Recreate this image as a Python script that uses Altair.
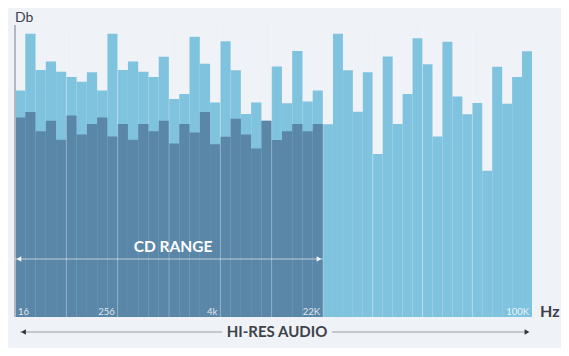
import altair as alt
import pandas as pd

# Light (full-range) bar levels, one per frequency bin
light_vals = [77.6, 97.0, 84.6, 87.5, 84.0, 82.2, 80.6, 83.8, 77.6, 97.0,
              84.6, 87.5, 84.0, 82.2, 89.1, 74.7, 76.4, 96.0, 86.7, 73.5,
              94.4, 84.5, 69.5, 73.5, 67.2, 85.8, 73.2, 91.1, 73.8, 77.6,
              66.0, 97.0, 84.5, 70.3, 83.8, 55.8, 89.2, 66.1, 76.4, 95.5,
              86.6, 61.8, 94.3, 75.5, 69.4, 73.3, 50.1, 85.7, 73.0, 82.2, 91.0]
# Dark (CD range) bar levels
dark_vals = [68.3, 70.2, 63.6, 67.2, 60.7, 69.0, 62.5, 66.1, 68.3, 61.8,
             66.1, 60.7, 66.1, 63.6, 67.2, 59.4, 66.1, 63.2, 70.2, 59.2,
             61.7, 67.9, 62.5, 57.7, 67.2, 60.6, 63.6, 66.1, 63.6, 66.1]
grid_pos = [5, 10, 15, 20, 25, 30, 35, 40, 45]
first_label = ["16"]
first_label_pos = [0]
tick_labels = ["256", "4k", "22K", "100K"]
tick_pos = [10, 20, 30, 51]
cd_start, cd_end = 0, 30

LIGHT = "#80c3de"
DARK = "#5a86a8"
BG = "#eff2f7"
TXT = "#3d4249"
FONT = "Lato"

n = len(light_vals)
light_df = pd.DataFrame({"i": list(range(n)), "i2": [k + 1 for k in range(n)], "db": light_vals})
dark_df = pd.DataFrame({"i": list(range(len(dark_vals))),
                        "i2": [k + 1 for k in range(len(dark_vals))], "db": dark_vals})
grid_df = pd.DataFrame({"g": grid_pos})
lab1_df = pd.DataFrame({"p": first_label_pos, "t": first_label})
lab_df = pd.DataFrame({"p": tick_pos, "t": tick_labels})
cd_df = pd.DataFrame({"a": [cd_start], "b": [cd_end]})

W, H = 517, 292
xs = alt.Scale(domain=[0, 30, n], range=[0, 308, W], nice=False, zero=False)
ys = alt.Scale(domain=[0, 100], nice=False, zero=True)

light = alt.Chart(light_df).mark_rect(color=LIGHT).encode(
    x=alt.X("i:Q", scale=xs, axis=None), x2="i2:Q",
    y=alt.Y("db:Q", scale=ys, axis=None), y2=alt.datum(0))

dark = alt.Chart(dark_df).mark_rect(color=DARK).encode(
    x=alt.X("i:Q", scale=xs, axis=None), x2="i2:Q",
    y=alt.Y("db:Q", scale=ys, axis=None), y2=alt.datum(0))

grid = alt.Chart(grid_df).mark_rule(color="white", opacity=0.28, strokeWidth=1).encode(
    x=alt.X("g:Q", scale=xs, axis=None), y=alt.value(0), y2=alt.value(H))

yaxis = alt.Chart(grid_df).mark_rule(color="#b3b8bf", strokeWidth=1).encode(
    x=alt.value(0), y=alt.value(0), y2=alt.value(H))

lab1 = alt.Chart(lab1_df).mark_text(align="left", baseline="alphabetic", dx=3, font=FONT,
                                    fontSize=9.5, color="white", opacity=0.8).encode(
    x=alt.X("p:Q", scale=xs, axis=None), y=alt.value(290), text="t:N")
labs = alt.Chart(lab_df).mark_text(align="right", baseline="alphabetic", dx=-3, font=FONT,
                                   fontSize=9.5, color="white", opacity=0.8).encode(
    x=alt.X("p:Q", scale=xs, axis=None), y=alt.value(290), text="t:N")

# CD RANGE arrow
cd_line = alt.Chart(cd_df).mark_rule(color="white", opacity=0.6, strokeWidth=1).encode(
    x=alt.X("a:Q", scale=xs, axis=None), x2="b:Q", y=alt.value(234))
cd_left = alt.Chart(cd_df).mark_point(shape="triangle-left", filled=True, size=28,
                                      color="white", opacity=0.9, xOffset=4).encode(
    x=alt.X("a:Q", scale=xs, axis=None), y=alt.value(234))
cd_right = alt.Chart(cd_df).mark_point(shape="triangle-right", filled=True, size=28,
                                       color="white", opacity=0.9, xOffset=-4).encode(
    x=alt.X("b:Q", scale=xs, axis=None), y=alt.value(234))
cd_text = alt.Chart(cd_df).mark_text(text="CD RANGE", font=FONT, fontWeight="bold",
                                     fontSize=15.5, color="white", align="center",
                                     baseline="middle").encode(
    x=alt.value(158), y=alt.value(222))

# HI-RES AUDIO arrow below the plot
hr_y = 307
hr_l = alt.Chart(cd_df).mark_rule(color="#9a9ea5", strokeWidth=1).encode(
    x=alt.value(5), x2=alt.value(207), y=alt.value(hr_y))
hr_r = alt.Chart(cd_df).mark_rule(color="#9a9ea5", strokeWidth=1).encode(
    x=alt.value(317), x2=alt.value(512), y=alt.value(hr_y))
hr_la = alt.Chart(cd_df).mark_point(shape="triangle-left", filled=True, size=30,
                                    color="#2f3338", opacity=1).encode(
    x=alt.value(8.5), y=alt.value(hr_y))
hr_ra = alt.Chart(cd_df).mark_point(shape="triangle-right", filled=True, size=30,
                                    color="#2f3338", opacity=1).encode(
    x=alt.value(512), y=alt.value(hr_y))
hr_text = alt.Chart(cd_df).mark_text(text="HI-RES AUDIO", font=FONT, fontWeight="bold",
                                     fontSize=15, color=TXT, align="center",
                                     baseline="middle").encode(
    x=alt.value(262), y=alt.value(hr_y))

db_text = alt.Chart(cd_df).mark_text(text="Db", font=FONT, fontSize=14, color=TXT,
                                     align="left", baseline="alphabetic").encode(
    x=alt.value(0), y=alt.value(-3))
hz_text = alt.Chart(cd_df).mark_text(text="Hz", font=FONT, fontSize=16, fontWeight="bold",
                                     color=TXT, align="left", baseline="alphabetic").encode(
    x=alt.value(525), y=alt.value(292))

chart = alt.layer(
    light, dark, grid, yaxis, lab1, labs, cd_line, cd_left, cd_right, cd_text,
    hr_l, hr_r, hr_la, hr_ra, hr_text, db_text, hz_text
).properties(
    width=W, height=H,
    background=BG,
    padding={"left": 7, "top": 17, "right": 29, "bottom": 31},
    autosize=alt.AutoSizeParams(type="none")
).configure_view(stroke=None)

chart.save("out.html", embed_options={"renderer": "svg", "actions": False})
